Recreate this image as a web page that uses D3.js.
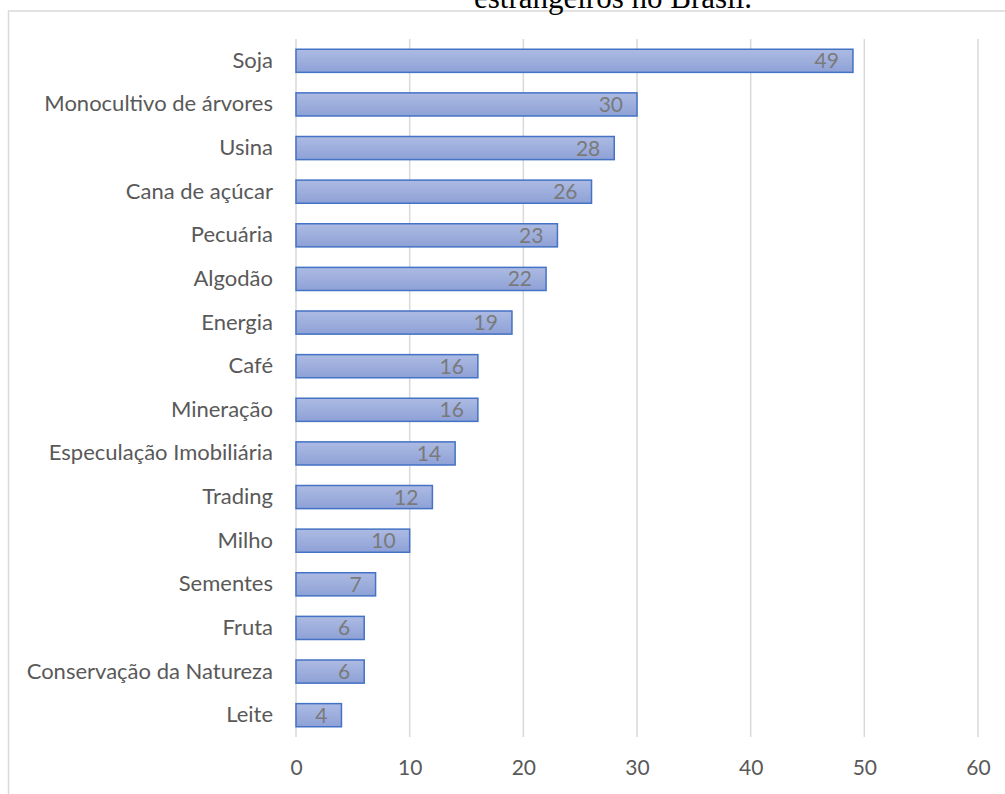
<!DOCTYPE html>
<html>
<head>
<meta charset="utf-8">
<script src="https://cdn.jsdelivr.net/npm/d3@7"></script>
<style>
  html, body { margin: 0; padding: 0; background: #fff; }
  svg { display: block; }
</style>
</head>
<body>
<svg id="chart"></svg>
<script>
const categories = ["Soja", "Monocultivo de árvores", "Usina", "Cana de açúcar", "Pecuária", "Algodão",
  "Energia", "Café", "Mineração", "Especulação Imobiliária", "Trading", "Milho", "Sementes", "Fruta",
  "Conservação da Natureza", "Leite"];
const values = [49, 30, 28, 26, 23, 22, 19, 16, 16, 14, 12, 10, 7, 6, 6, 4];
const xTicks = [0, 10, 20, 30, 40, 50, 60];
const title = "estrangeiros no Brasil.";

var svgWidth = 1005, svgHeight = 794;
var plotLeft = 296, plotRight = 978, plotTop = 39, plotBottom = 737;
var font = "Lato, 'Noto Sans', sans-serif";

var svg = d3.select("#chart")
   .attr("width", svgWidth)
   .attr("height", svgHeight);

var defs = svg.append("defs");
var grad = defs.append("linearGradient")
   .attr("id", "barGrad")
   .attr("x1", 0).attr("y1", 0).attr("x2", 0).attr("y2", 1);
grad.append("stop").attr("offset", "0%").attr("stop-color", "#adbbe3");
grad.append("stop").attr("offset", "100%").attr("stop-color", "#8ea1d6");

// chart frame (runs off the page right and bottom)
svg.append("rect")
   .attr("x", 8.5).attr("y", 11)
   .attr("width", 1100).attr("height", 900)
   .attr("fill", "none")
   .attr("stroke", "#d9d9d9")
   .attr("stroke-width", 1.5);

// title, cut off at the top
svg.append("text")
   .attr("x", 613).attr("y", 8)
   .attr("text-anchor", "middle")
   .attr("font-family", "'Liberation Serif', 'Times New Roman', serif")
   .attr("font-size", 31)
   .attr("fill", "#000")
   .text(title);

var x = d3.scaleLinear().domain([0, 60]).range([plotLeft, plotRight]);
var y = d3.scaleBand().domain(categories).range([plotTop, plotBottom]).paddingInner(0.47).paddingOuter(0.235);

// gridlines
svg.append("g")
   .selectAll("line")
   .data(xTicks)
   .enter()
   .append("line")
   .attr("x1", d => x(d)).attr("x2", d => x(d))
   .attr("y1", plotTop).attr("y2", plotBottom)
   .attr("stroke", "#d9d9d9")
   .attr("stroke-width", 1.5);

// x axis labels
var xAxis = svg.append("g")
   .attr("transform", "translate(0," + (plotBottom + 23) + ")")
   .call(d3.axisBottom(x).tickValues(xTicks).tickSize(0).tickPadding(0));
xAxis.select(".domain").remove();
xAxis.selectAll("text")
   .attr("font-family", font)
   .attr("font-size", 21)
   .attr("fill", "#595959");

// category labels
var yAxis = svg.append("g")
   .attr("transform", "translate(" + (plotLeft - 23) + ",0)")
   .call(d3.axisLeft(y).tickSize(0).tickPadding(0));
yAxis.select(".domain").remove();
yAxis.selectAll("text")
   .attr("font-family", font)
   .attr("font-size", 22)
   .attr("fill", "#595959");

// bars
svg.append("g")
   .selectAll("rect")
   .data(values)
   .enter()
   .append("rect")
   .attr("x", x(0))
   .attr("y", (d, i) => y(categories[i]))
   .attr("width", d => x(d) - x(0))
   .attr("height", y.bandwidth())
   .attr("fill", "url(#barGrad)")
   .attr("stroke", "#4472c4")
   .attr("stroke-width", 1.5);

// value labels, inside end
svg.append("g")
   .selectAll("text")
   .data(values)
   .enter()
   .append("text")
   .attr("x", d => x(d) - 14)
   .attr("y", (d, i) => y(categories[i]) + y.bandwidth() / 2)
   .attr("dy", "0.36em")
   .attr("text-anchor", "end")
   .attr("font-family", font)
   .attr("font-size", 21)
   .attr("fill", "#7a7a7a")
   .text(d => d);
</script>
</body>
</html>
